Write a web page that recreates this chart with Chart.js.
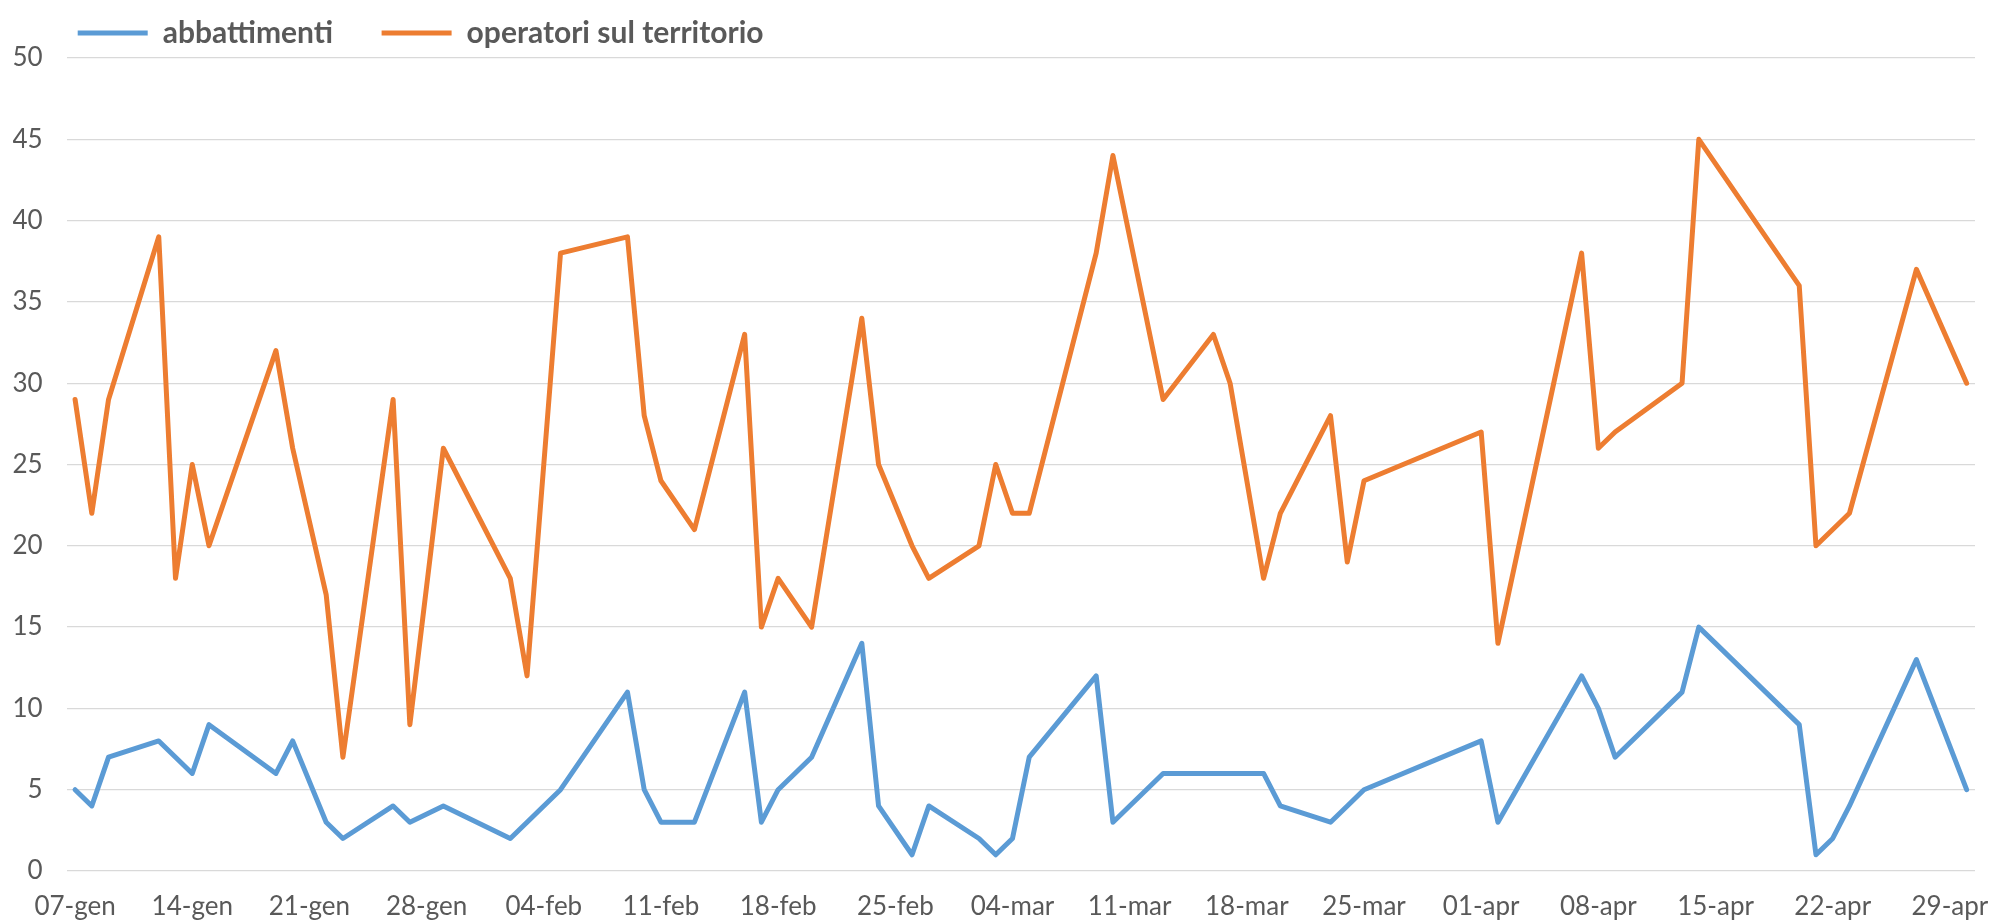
<!DOCTYPE html>
<html>
<head>
<meta charset="utf-8">
<script src="https://cdn.jsdelivr.net/npm/chart.js@4.4.1/dist/chart.umd.min.js"></script>
<style>
  html, body { margin: 0; padding: 0; background: #fff; }
  #wrap { width: 1993px; height: 921px; }
</style>
</head>
<body>
<div id="wrap"><canvas id="grafico"></canvas></div>
<script>
// ================== DATI ==================
const date = ['07-gen', '08-gen', '09-gen', '12-gen', '13-gen', '14-gen', '15-gen', '19-gen', '20-gen', '22-gen',
  '23-gen', '26-gen', '27-gen', '29-gen', '02-feb', '03-feb', '05-feb', '09-feb', '10-feb', '11-feb',
  '13-feb', '16-feb', '17-feb', '18-feb', '20-feb', '23-feb', '24-feb', '26-feb', '27-feb', '02-mar',
  '03-mar', '04-mar', '05-mar', '09-mar', '10-mar', '13-mar', '16-mar', '17-mar', '19-mar', '20-mar',
  '23-mar', '24-mar', '25-mar', '01-apr', '02-apr', '07-apr', '08-apr', '09-apr', '13-apr', '14-apr',
  '20-apr', '21-apr', '22-apr', '23-apr', '27-apr', '30-apr'];

const abbattimenti = [5, 4, 7, 8, 7, 6, 9, 6, 8, 3,
  2, 4, 3, 4, 2, 3, 5, 11, 5, 3,
  3, 11, 3, 5, 7, 14, 4, 1, 4, 2,
  1, 2, 7, 12, 3, 6, 6, 6, 6, 4,
  3, 4, 5, 8, 3, 12, 10, 7, 11, 15,
  9, 1, 2, 4, 13, 5];

const operatori = [29, 22, 29, 39, 18, 25, 20, 32, 26, 17,
  7, 29, 9, 26, 18, 12, 38, 39, 28, 24,
  21, 33, 15, 18, 15, 34, 25, 20, 18, 20,
  25, 22, 22, 38, 44, 29, 33, 30, 18, 22,
  28, 19, 24, 27, 14, 38, 26, 27, 30, 45,
  36, 20, 21, 22, 37, 30];

const tickLabels = ['07-gen', '14-gen', '21-gen', '28-gen', '04-feb', '11-feb', '18-feb', '25-feb',
  '04-mar', '11-mar', '18-mar', '25-mar', '01-apr', '08-apr', '15-apr', '22-apr', '29-apr'];

// asse x: un giorno per categoria, dal 07-gen al 30-apr
const mesi = [['gen', 31], ['feb', 28], ['mar', 31], ['apr', 30]];
const giorni = [];
mesi.forEach(([nome, lunghezza], m) => {
  for (let d = (m === 0 ? 7 : 1); d <= lunghezza; d++) {
    giorni.push(String(d).padStart(2, '0') + '-' + nome);
  }
});

// ================== CHART ==================
Chart.defaults.font.family = "Lato, 'Open Sans', sans-serif";
Chart.defaults.font.size = 26;
Chart.defaults.color = '#595959';

const ctx = document.getElementById('grafico').getContext('2d');

new Chart(ctx, {
  type: 'line',
  data: {
    labels: giorni,
    datasets: [
      {
        label: 'abbattimenti',
        data: date.map((d, i) => ({ x: d, y: abbattimenti[i] })),
        borderColor: '#5b9bd5',
        backgroundColor: '#5b9bd5',
        borderWidth: 5
      },
      {
        label: 'operatori sul territorio',
        data: date.map((d, i) => ({ x: d, y: operatori[i] })),
        borderColor: '#ed7d31',
        backgroundColor: '#ed7d31',
        borderWidth: 5
      }
    ]
  },
  options: {
    responsive: true,
    maintainAspectRatio: false,
    animation: false,
    layout: { padding: { left: 13, right: 18, top: 0, bottom: 0 } },
    elements: {
      point: { radius: 0, hoverRadius: 0 },
      line: { tension: 0, borderJoinStyle: 'round', borderCapStyle: 'round' }
    },
    plugins: {
      tooltip: { enabled: false },
      legend: {
        position: 'top',
        align: 'start',
        fullSize: false,
        labels: {
          usePointStyle: true,
          pointStyle: 'line',
          pointStyleWidth: 70,
          padding: 11,
          color: '#595959',
          font: { size: 30, weight: 'bold' },
          generateLabels: (chart) => {
            const items = Chart.defaults.plugins.legend.labels.generateLabels(chart);
            items[0].text += '\u2003\u2002'; // spazio tra le due voci come in Excel
            return items;
          }
        }
      }
    },
    scales: {
      x: {
        type: 'category',
        offset: true,
        grid: { display: false, drawTicks: false },
        border: { display: false },
        ticks: {
          autoSkip: false,
          maxRotation: 0,
          padding: 20,
          callback: function (value) {
            const lab = this.getLabelForValue(value);
            return tickLabels.includes(lab) ? lab : '';
          }
        },
        afterFit: (scale) => {
          scale.paddingLeft = 0;
          scale.paddingRight = 0;
          scale.height = 50;
        }
      },
      y: {
        min: 0,
        max: 50,
        grid: { color: '#d9d9d9', lineWidth: 1.3, drawTicks: false },
        border: { display: false },
        ticks: { stepSize: 5, padding: 24 },
        afterFit: (scale) => {
          scale.width = 53.7;
          scale.paddingTop = 58;
        }
      }
    }
  }
});
</script>
</body>
</html>
